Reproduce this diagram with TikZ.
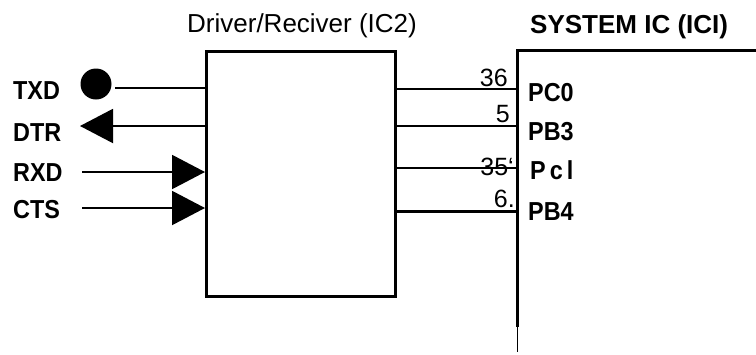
\documentclass[tikz,border=0pt]{standalone}
\usepackage{fontspec}
\setmainfont{Liberation Sans}
\newfontfamily\narrowfont[FakeStretch=0.9]{Liberation Sans}
\usetikzlibrary{arrows.meta}
\begin{document}
\begin{tikzpicture}[x=1pt,y=-1pt,
  lbl/.style={inner sep=0pt,anchor=base west,font=\narrowfont\fontsize{26}{30}\selectfont\bfseries},
  pinlbl/.style={inner sep=0pt,anchor=base west,font=\narrowfont\fontsize{26}{30}\selectfont\bfseries},
  num/.style={inner sep=0pt,anchor=base east,font=\fontsize{25}{28}\selectfont},
  title/.style={inner sep=0pt,anchor=base west},
  wire/.style={line width=2pt},
  box/.style={line width=3pt},
  bigtip/.style={-{Triangle[length=33pt,width=34pt]}}
]
\useasboundingbox (0,0) rectangle (756,354);

% titles
\node[title,font=\fontsize{26}{30}\selectfont] (t1) at (187,32) {Driver/Reciver (IC2)};
\node[title,font=\fontsize{26}{30}\selectfont\bfseries] (t2) at (530,33) {SYSTEM IC (ICI)};

% driver box
\node[draw,box,minimum width=189pt,minimum height=245pt,inner sep=0pt,anchor=north west] (drv) at (205,50) {};

% system IC outline
\coordinate (sysTL) at (517,50);
\coordinate (sysTR) at (756,50);
\coordinate (sysB1) at (517,327);
\coordinate (sysB2) at (517,352);
\draw[box] (sysTR) -- (sysTL) -- (sysB1);
\draw[line width=1pt] (sysB1) -- (sysB2);

% left labels
\node[lbl] (ltxd) at (13,99) {TXD};
\node[lbl] (ldtr) at (13,141) {DTR};
\node[lbl] (lrxd) at (13,181) {RXD};
\node[lbl] (lcts) at (13,218) {CTS};

% TXD dot
\node[circle,fill=black,minimum size=31pt,inner sep=0pt] (dot) at (96,84) {};
\coordinate (txdL) at (115,88);
\coordinate (txdR) at (205,88);
\draw[wire] (txdR) -- (txdL);

% DTR arrow
\coordinate (dtrR) at (205,126);
\coordinate (dtrL) at (80,126);
\draw[wire,bigtip] (dtrR) -- (dtrL);

% RXD arrow
\coordinate (rxdL) at (82,172);
\coordinate (rxdR) at (205,172);
\draw[wire,bigtip] (rxdL) -- (rxdR);

% CTS arrow
\coordinate (ctsL) at (82,208);
\coordinate (ctsR) at (205,208);
\draw[wire,bigtip] (ctsL) -- (ctsR);

% right wires
\coordinate (w1L) at (394,89);  \coordinate (w1R) at (517,89);
\coordinate (w2L) at (394,126); \coordinate (w2R) at (517,126);
\coordinate (w3L) at (394,168); \coordinate (w3R) at (517,168);
\coordinate (w4L) at (394,211); \coordinate (w4R) at (517,211);
\draw[wire] (w1L) -- (w1R);
\draw[wire] (w2L) -- (w2R);
\draw[wire] (w3L) -- (w3R);
\draw[wire,line width=3pt] (w4L) -- (w4R);

% pin numbers
\node[num] (n36) at (508,86) {36};
\node[num] (n5) at (510,122) {5};
\node[num] (n35) at (514,175) {35‘};
\node[num] (n6) at (515,207) {6.};

% pin labels
\node[pinlbl] (pc0) at (528,101) {PC0};
\node[pinlbl] (pb3) at (528,140) {PB3};
\node[pinlbl] (pcl) at (530,179) {P\kern4pt c\kern4pt l};
\node[pinlbl] (pb4) at (528,220) {PB4};
\end{tikzpicture}
\end{document}
